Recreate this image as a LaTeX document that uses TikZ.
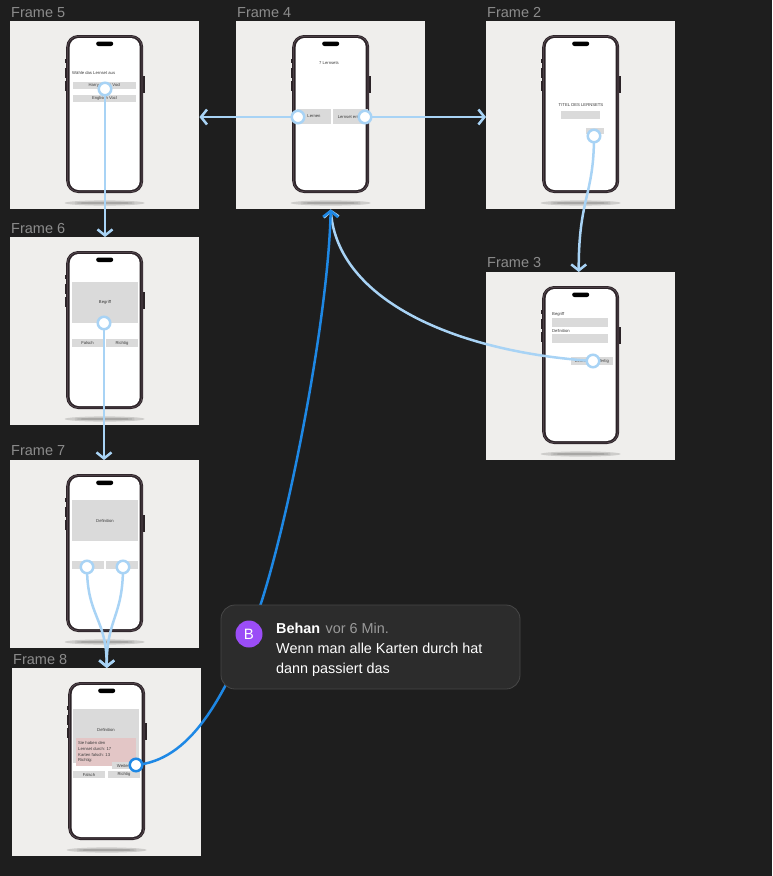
\documentclass[tikz,border=0pt]{standalone}
\usepackage{fontspec}
\setmainfont{Liberation Sans}
\usetikzlibrary{arrows.meta,calc}

\definecolor{canvas}{HTML}{1E1E1E}
\definecolor{framebg}{HTML}{EFEEEC}
\definecolor{framelabel}{HTML}{8C8C8C}
\definecolor{phonebody}{HTML}{2B2327}
\definecolor{phoneedge}{HTML}{5E4F58}
\definecolor{uigray}{HTML}{DADADA}
\definecolor{uitext}{HTML}{3A3A3A}
\definecolor{pinkbox}{HTML}{E3C6C6}
\definecolor{flow}{HTML}{A8D3F5}
\definecolor{flowsel}{HTML}{1E88E5}
\definecolor{cmtbg}{HTML}{2C2C2C}
\definecolor{cmtedge}{HTML}{474747}
\definecolor{avatar}{HTML}{9B4DF7}
\definecolor{cmtmuted}{HTML}{9A9A9A}

\tikzset{
  screenframe/.style={fill=framebg, draw=none, inner sep=0pt, anchor=north west,
    minimum width=189pt, minimum height=188pt},
  framelabel/.style={text=framelabel, font=\fontsize{14.5}{16}\selectfont,
    anchor=base west, inner sep=0pt},
  uitxt/.style={text=uitext, font=\fontsize{4.2}{5}\selectfont, inner sep=0pt},
  uibtn/.style={uitxt, fill=uigray, minimum height=7pt},
  hotspot/.style={circle, draw=flow, line width=2.5pt, fill=white,
    minimum size=12.5pt, inner sep=0pt},
  hotspotsel/.style={hotspot, draw=flowsel},
  link/.style={draw=flow, line width=2.5pt, line cap=round,
    -{Straight Barb[length=6pt,width=15pt]}},
  linksel/.style={link, draw=flowsel},
  comment/.style={fill=cmtbg, draw=cmtedge, line width=0.8pt, rounded corners=14pt,
    minimum width=299pt, minimum height=84pt, inner sep=0pt},
  cmttxt/.style={text=white, font=\fontsize{14.4}{17}\selectfont,
    anchor=base west, inner sep=0pt},
  phone/.pic={
    % soft shadow under the device
    \fill[black, opacity=0.14] (0,168) ellipse [x radius=40pt, y radius=2.6pt];
    \fill[black, opacity=0.18] (0,168) ellipse [x radius=30pt, y radius=1.2pt];
    % side keys
    \fill[phonebody] (-40,24) rectangle (-38,28);
    \fill[phonebody] (-40,33) rectangle (-38,43);
    \fill[phonebody] (-40,46) rectangle (-38,56);
    \fill[phonebody] (38,41) rectangle (40,58);
    % body, rim and screen
    \fill[phonebody, rounded corners=12pt] (-38.5,0) rectangle (38.5,158);
    \draw[phoneedge, line width=0.6pt, rounded corners=11pt] (-37.3,1.2) rectangle (37.3,156.8);
    \fill[white, rounded corners=9pt] (-35,3) rectangle (35,155);
    \fill[black, rounded corners=2.2pt] (-8.5,6.5) rectangle (8.5,11);
  }
}

\begin{document}
\begin{tikzpicture}[x=1pt, y=-1pt]
  \fill[canvas] (0,0) rectangle (772,876);

  % ---------- frames ----------
  \node[screenframe] (f5) at (10,21) {};
  \node[screenframe] (f4) at (236,21) {};
  \node[screenframe] (f2) at (486,21) {};
  \node[screenframe] (f6) at (10,237) {};
  \node[screenframe] (f3) at (486,272) {};
  \node[screenframe] (f7) at (10,460) {};
  \node[screenframe] (f8) at (12,668) {};

  \node[framelabel] (l5) at (11,17)  {Frame 5};
  \node[framelabel] (l4) at (237,17) {Frame 4};
  \node[framelabel] (l2) at (487,17) {Frame 2};
  \node[framelabel] (l6) at (11,233) {Frame 6};
  \node[framelabel] (l3) at (487,267) {Frame 3};
  \node[framelabel] (l7) at (11,455) {Frame 7};
  \node[framelabel] (l8) at (13,664) {Frame 8};

  \foreach \fr in {f5,f4,f2,f6,f3,f7,f8}
    \pic at ($(\fr.north)+(0,14)$) {phone};

  % ---------- screen contents ----------
  % Frame 5: choose a set
  \node[uitxt, anchor=west] (t5) at (72,73) {Wähle das Lernset aus};
  \node[uibtn, minimum width=63pt] (b5a) at (104.5,85.5) {Harry Potter Vocl};
  \node[uibtn, minimum width=63pt] (b5b) at (104.5,98.5) {Englisch Vocl};

  % Frame 4: home
  \node[uitxt] (t4) at (329,63) {7 Lernsets};
  \node[uibtn, minimum width=34pt, minimum height=15pt] (b4a) at (314,116.5) {Lernen};
  \node[uibtn, minimum width=35pt, minimum height=15pt] (b4b) at (350.5,116.5) {Lernset erstel};

  % Frame 2: new set title
  \node[uitxt] (t2) at (581,105) {TITEL DES LERNSETS};
  \node[uibtn, minimum width=39pt, minimum height=8pt] (i2) at (580.5,115) {};
  \node[uibtn, minimum width=18pt, minimum height=6pt] (b2) at (595,131) {};

  % Frame 3: add cards
  \node[uitxt, anchor=west] (t3a) at (552,314) {Begriff};
  \node[uibtn, minimum width=56pt, minimum height=9pt] (i3a) at (580,322.5) {};
  \node[uitxt, anchor=west] (t3b) at (552,330.5) {Definition};
  \node[uibtn, minimum width=56pt, minimum height=9pt] (i3b) at (580,338.5) {};
  \node[uibtn, minimum width=42pt, minimum height=8pt] (b3) at (592,361) {Lernset \hspace{8pt} fertig};

  % Frame 6: term card
  \node[uibtn, minimum width=66pt, minimum height=41pt] (c6) at (105,302.5) {Begriff};
  \node[uibtn, minimum width=31pt, minimum height=8pt] (b6a) at (87.5,343) {Falsch};
  \node[uibtn, minimum width=32pt, minimum height=8pt] (b6b) at (122,343) {Richtig};

  % Frame 7: definition card
  \node[uibtn, minimum width=66pt, minimum height=41pt] (c7) at (105,520.5) {Definition};
  \node[uibtn, minimum width=32pt, minimum height=8pt] (b7a) at (88,565) {};
  \node[uibtn, minimum width=32pt, minimum height=8pt] (b7b) at (122,565) {};

  % Frame 8: summary
  \node[uibtn, minimum width=66pt, minimum height=54pt, anchor=north west] (c8) at (73,709) {};
  \node[uitxt] (t8) at (106,730) {Definition};
  \node[fill=pinkbox, minimum width=60pt, minimum height=28pt, anchor=north west, inner sep=0pt] (p8) at (76,738) {};
  \node[uitxt, anchor=west] (s1) at (78,743)   {Sie haben den};
  \node[uitxt, anchor=west] (s2) at (78,749)   {Lernset durch: 17};
  \node[uitxt, anchor=west] (s3) at (78,755)   {Karten falsch: 13};
  \node[uitxt, anchor=west] (s4) at (78,760.5) {Richtig:};
  \node[uibtn, minimum width=22pt, minimum height=7pt] (w8) at (123,765.5) {Weiter};
  \node[uibtn, minimum width=32pt, minimum height=7pt] (b8a) at (89,774.5) {Falsch};
  \node[uibtn, minimum width=32pt, minimum height=7pt] (b8b) at (124,774.5) {Richtig};

  % ---------- prototype links ----------
  \coordinate (h1) at (298,117);
  \coordinate (h2) at (365,117);
  \coordinate (h3) at (105,89);
  \coordinate (h4) at (594,136);
  \coordinate (h5) at (593,361);
  \coordinate (h6) at (104,323);
  \coordinate (h7a) at (87,567);
  \coordinate (h7b) at (123,567);
  \coordinate (h8) at (136,765);

  \draw[link] (h1) -- (h1 -| f5.east);
  \draw[link] (h2) -- (h2 -| f2.west);
  \draw[link] (h3) -- (h3 |- f6.north);
  \draw[link] (h4) .. controls ($(h4)+(0,60)$) and ($(f3.north)+(-2,-75)$) .. ($(f3.north)+(-2,0)$);
  \draw[link] (h5) .. controls (455,352) and (338,300) .. (f4.south);
  \draw[link] (h6) -- (h6 |- f7.north);
  \draw[link] (h7a) .. controls ($(h7a)+(0,50)$) and ($(f8.north)+(0,-50)$) .. (f8.north);
  \draw[link] (h7b) .. controls ($(h7b)+(0,50)$) and ($(f8.north)+(0,-50)$) .. (f8.north);
  \draw[linksel] (h8) .. controls (190,760) and (222,700) .. (252,628)
                      .. controls (280,562) and (328,330) .. (f4.south);

  \foreach \h in {h1,h2,h3,h4,h5,h6,h7a,h7b}
    \node[hotspot] (\h dot) at (\h) {};
  \node[hotspotsel] (h8dot) at (h8) {};

  % ---------- comment ----------
  \node[comment] (cmt) at (370.5,647) {};
  \node[circle, fill=avatar, minimum size=27pt, inner sep=0pt, text=white,
        font=\fontsize{15}{17}\selectfont] (av) at (249,634) {B};
  \node[cmttxt, font=\fontsize{14.4}{17}\selectfont\bfseries] (cname) at (276,633) {Behan};
  \node[cmttxt, text=cmtmuted] (ctime) at ($(cname.base east)+(5,0)$) {vor 6 Min.};
  \node[cmttxt] (cl1) at (276,653) {Wenn man alle Karten durch hat};
  \node[cmttxt] (cl2) at (276,673) {dann passiert das};
\end{tikzpicture}
\end{document}
